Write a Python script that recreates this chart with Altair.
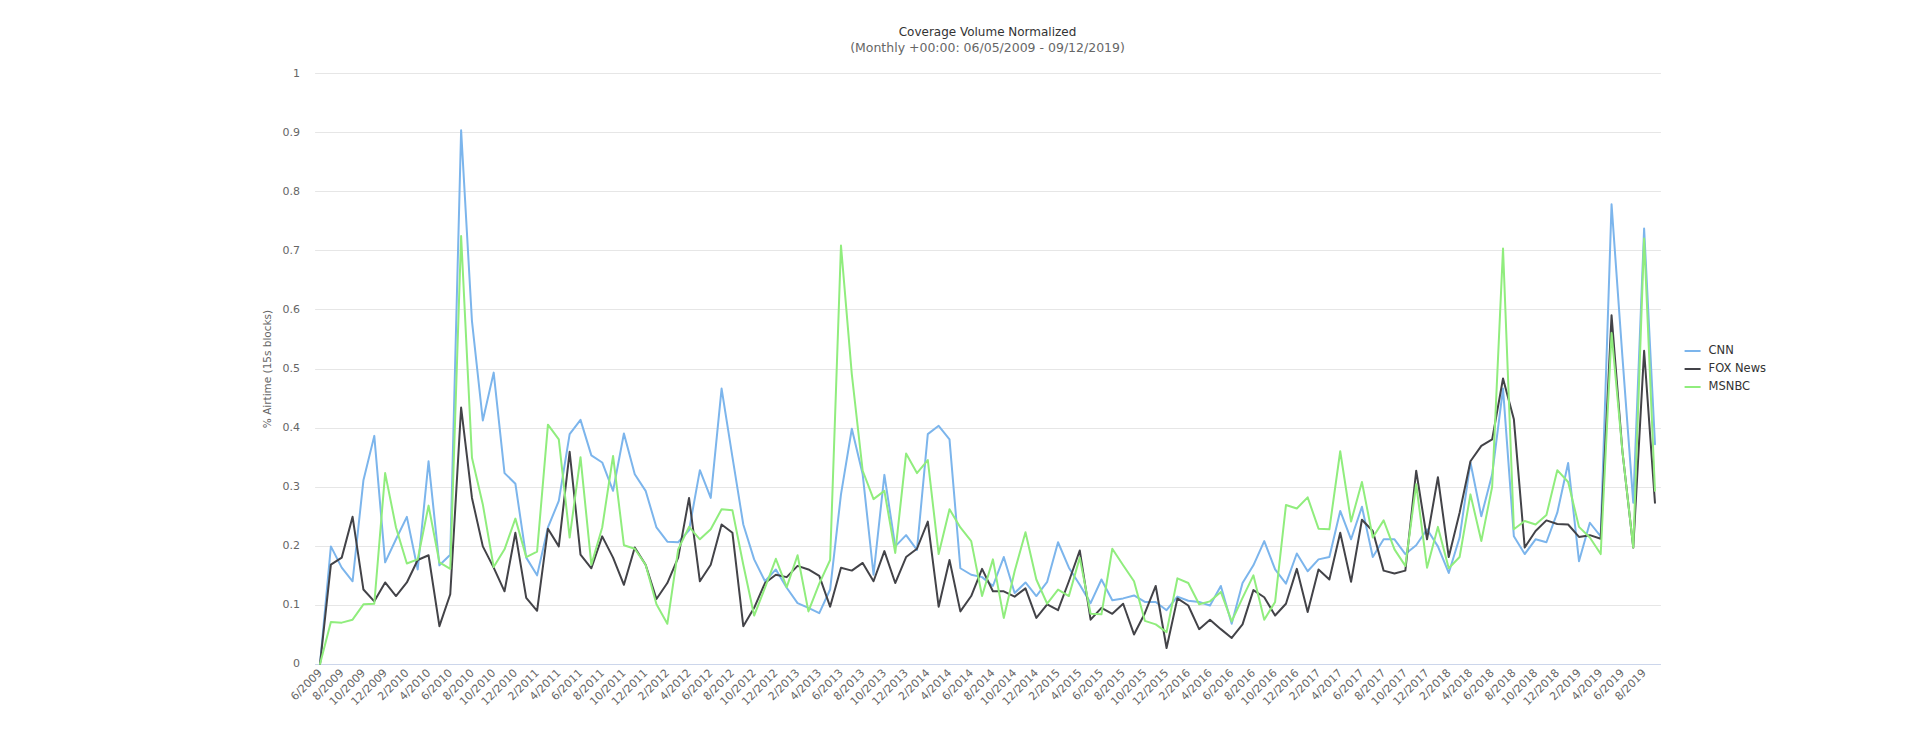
import altair as alt
import pandas as pd

# Category labels: one per month, 6/2009 .. 9/2019
months = [f"{(5 + i) % 12 + 1}/{2009 + (5 + i) // 12}" for i in range(124)]
tick_labels = months[::2]

cnn = [0.000, 0.199, 0.163, 0.140, 0.311, 0.386, 0.172, 0.211, 0.249, 0.160,
       0.343, 0.167, 0.185, 0.903, 0.580, 0.412, 0.493, 0.323, 0.305, 0.180,
       0.150, 0.231, 0.276, 0.389, 0.413, 0.353, 0.341, 0.293, 0.390, 0.321,
       0.293, 0.231, 0.207, 0.206, 0.226, 0.328, 0.281, 0.466, 0.350, 0.236,
       0.177, 0.140, 0.160, 0.129, 0.103, 0.095, 0.086, 0.126, 0.287, 0.398,
       0.321, 0.151, 0.320, 0.199, 0.218, 0.193, 0.389, 0.403, 0.380, 0.162,
       0.151, 0.147, 0.132, 0.181, 0.120, 0.138, 0.115, 0.139, 0.206, 0.163,
       0.134, 0.103, 0.143, 0.108, 0.111, 0.116, 0.105, 0.105, 0.091, 0.114,
       0.107, 0.105, 0.099, 0.132, 0.068, 0.137, 0.167, 0.208, 0.160, 0.136,
       0.187, 0.157, 0.177, 0.181, 0.259, 0.211, 0.266, 0.181, 0.211, 0.211,
       0.186, 0.201, 0.228, 0.199, 0.154, 0.214, 0.341, 0.250, 0.321, 0.466,
       0.216, 0.186, 0.211, 0.206, 0.256, 0.340, 0.174, 0.239, 0.216, 0.778,
       0.520, 0.273, 0.737, 0.372]

fox = [0.000, 0.168, 0.180, 0.249, 0.126, 0.106, 0.138, 0.115, 0.138, 0.176,
       0.184, 0.064, 0.118, 0.434, 0.281, 0.199, 0.163, 0.123, 0.222, 0.112,
       0.090, 0.229, 0.199, 0.359, 0.185, 0.162, 0.216, 0.180, 0.134, 0.197,
       0.168, 0.110, 0.137, 0.180, 0.281, 0.140, 0.168, 0.236, 0.222, 0.064,
       0.095, 0.137, 0.151, 0.147, 0.166, 0.160, 0.149, 0.097, 0.163, 0.158,
       0.171, 0.140, 0.191, 0.137, 0.181, 0.195, 0.241, 0.097, 0.176, 0.089,
       0.115, 0.161, 0.123, 0.123, 0.114, 0.128, 0.078, 0.101, 0.091, 0.140,
       0.192, 0.075, 0.095, 0.085, 0.102, 0.050, 0.086, 0.132, 0.027, 0.111,
       0.099, 0.059, 0.075, 0.059, 0.044, 0.067, 0.125, 0.113, 0.082, 0.102,
       0.161, 0.088, 0.160, 0.143, 0.222, 0.139, 0.244, 0.225, 0.158, 0.153,
       0.158, 0.327, 0.211, 0.316, 0.181, 0.256, 0.343, 0.369, 0.380, 0.483,
       0.414, 0.197, 0.225, 0.243, 0.237, 0.236, 0.215, 0.218, 0.212, 0.590,
       0.360, 0.197, 0.530, 0.273]

msnbc = [0.000, 0.071, 0.070, 0.075, 0.101, 0.102, 0.323, 0.231, 0.170, 0.177,
         0.268, 0.172, 0.161, 0.724, 0.349, 0.270, 0.164, 0.194, 0.246, 0.181,
         0.190, 0.405, 0.380, 0.214, 0.350, 0.168, 0.231, 0.352, 0.201, 0.195,
         0.168, 0.101, 0.068, 0.194, 0.232, 0.211, 0.228, 0.262, 0.260, 0.168,
         0.082, 0.129, 0.178, 0.130, 0.184, 0.089, 0.136, 0.176, 0.708, 0.490,
         0.327, 0.279, 0.293, 0.188, 0.356, 0.323, 0.345, 0.186, 0.262, 0.231,
         0.208, 0.115, 0.177, 0.078, 0.157, 0.223, 0.143, 0.102, 0.126, 0.115,
         0.180, 0.085, 0.084, 0.195, 0.167, 0.140, 0.073, 0.067, 0.054, 0.145,
         0.137, 0.101, 0.106, 0.122, 0.072, 0.112, 0.150, 0.075, 0.105, 0.269,
         0.263, 0.282, 0.229, 0.228, 0.360, 0.241, 0.308, 0.214, 0.243, 0.194,
         0.166, 0.304, 0.163, 0.232, 0.162, 0.181, 0.287, 0.208, 0.300, 0.703,
         0.228, 0.242, 0.236, 0.252, 0.328, 0.308, 0.232, 0.214, 0.186, 0.560,
         0.360, 0.197, 0.720, 0.293]

networks = ["CNN", "FOX News", "MSNBC"]
colors = ["#7cb5ec", "#434348", "#90ed7d"]
y_ticks = [0, 0.1, 0.2, 0.3, 0.4, 0.5, 0.6, 0.7, 0.8, 0.9, 1]

rows = []
for name, vals in zip(networks, [cnn, fox, msnbc]):
    for m, v in zip(months, vals):
        rows.append({"month": m, "network": name, "value": v})
df = pd.DataFrame(rows)

FONT = "DejaVu Sans"
W = 1345.8
H = 591

chart = alt.Chart(df).mark_line(strokeWidth=2, strokeJoin="round", strokeCap="round").encode(
    x=alt.X(
        "month:N",
        sort=months,
        scale=alt.Scale(type="point", padding=0.5),
        axis=alt.Axis(
            values=tick_labels, labelAngle=315, labelAlign="right", labelBaseline="middle",
            title=None, ticks=False, grid=False, domainColor="#ccd6eb", domainWidth=1,
            labelColor="#666666", labelFontSize=11, labelFont=FONT, labelPadding=7,
            labelOverlap=False,
        ),
    ),
    y=alt.Y(
        "value:Q",
        scale=alt.Scale(domain=[0, 1], nice=False, zero=True),
        axis=alt.Axis(
            values=y_ticks, format="~g", title="% Airtime (15s blocks)",
            grid=True, gridColor="#e6e6e6", gridWidth=1, domain=False, ticks=False,
            labelColor="#666666", labelFontSize=11, labelFont=FONT, labelPadding=15,
            titleColor="#666666", titleFontSize=10.5, titleFont=FONT, titleFontWeight="normal",
            titlePadding=10,
        ),
    ),
    color=alt.Color(
        "network:N",
        scale=alt.Scale(domain=networks, range=colors),
        legend=alt.Legend(
            title=None, orient="none", legendX=1369, legendY=269,
            symbolType="stroke", symbolSize=256, symbolStrokeWidth=2,
            labelFont=FONT, labelFontSize=11.5, labelColor="#333333",
            labelOffset=7, rowPadding=3, padding=0,
        ),
    ),
).properties(
    width=W,
    height=H,
    background="white",
    autosize=alt.AutoSizeParams(type="none"),
    padding={"left": 306.6, "top": 65, "right": 240, "bottom": 60},
    title=alt.TitleParams(
        text="Coverage Volume Normalized",
        subtitle="(Monthly +00:00: 06/05/2009 - 09/12/2019)",
        font=FONT, fontSize=12, fontWeight="normal", color="#333333",
        subtitleFont=FONT, subtitleFontSize=12.5, subtitleColor="#666666",
        subtitlePadding=3, offset=12, anchor="middle",
    ),
).configure_view(stroke=None)

chart.save("out.html", embed_options={"renderer": "svg", "actions": False})
